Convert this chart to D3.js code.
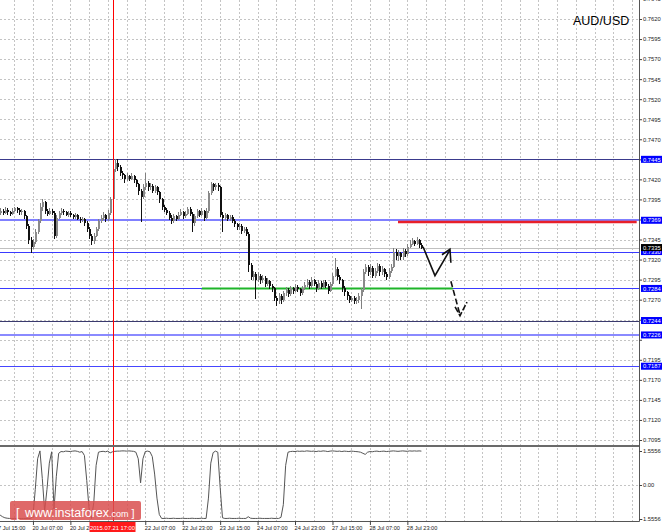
<!DOCTYPE html>
<html><head><meta charset="utf-8">
<script src="https://cdn.jsdelivr.net/npm/d3@7"></script>
<style>html,body{margin:0;padding:0;background:#fff;} svg{display:block;}</style>
</head><body>
<script>
// ---------- DATA (H1 bars, index 0 = 17 Jul 15:00) ----------
const opens = [.7383,.7380,.7378,.7381,.7378,.7382,.7379,.7377,.7381,.7384,.7382,.7379,.7380,.7374,.7362,.7345,.7336,.7342,.7355,.7368,
.7385,.7392,.7380,.7377,.7381,.7378,.7349,.7372,.7378,.7381,.7379,.7376,.7378,.7375,.7373,.7375,.7371,.7369,.7370,.7366,
.7358,.7350,.7343,.7350,.7358,.7368,.7372,.7375,.7370,.7378,.7395,.7433,.7440,.7436,.7428,.7425,.7420,.7424,.7421,.7424,
.7419,.7414,.7405,.7398,.7410,.7415,.7410,.7412,.7406,.7410,.7404,.7395,.7385,.7382,.7378,.7372,.7368,.7374,.7371,.7376,
.7379,.7374,.7377,.7383,.7377,.7365,.7374,.7380,.7376,.7380,.7372,.7380,.7403,.7414,.7410,.7413,.7410,.7376,.7372,.7375,
.7371,.7373,.7368,.7364,.7360,.7362,.7356,.7358,.7352,.7313,.7298,.7302,.7295,.7300,.7294,.7297,.7290,.7293,.7287,.7284,
.7272,.7268,.7275,.7270,.7278,.7282,.7277,.7284,.7281,.7286,.7283,.7278,.7284,.7288,.7292,.7287,.7294,.7290,.7284,.7291,
.7286,.7292,.7287,.7281,.7289,.7300,.7308,.7298,.7294,.7284,.7279,.7274,.7270,.7272,.7268,.7270,.7275,.7282,.7305,.7311,
.7304,.7310,.7300,.7306,.7312,.7304,.7308,.7302,.7298,.7306,.7311,.7330,.7325,.7328,.7323,.7331,.7327,.7336,.7340,.7343,
.7340,.7344,.7338];
const highs = [.7385,.7382,.7384,.7383,.7385,.7384,.7381,.7384,.7386,.7386,.7384,.7383,.7382,.7376,.7364,.7348,.7346,.7358,.7371,.7390,
.7395,.7393,.7383,.7384,.7383,.7380,.7375,.7381,.7384,.7383,.7381,.7380,.7380,.7377,.7378,.7377,.7373,.7373,.7372,.7368,
.7360,.7352,.7353,.7361,.7371,.7376,.7379,.7377,.7382,.7398,.7437,.7446,.7445,.7438,.7431,.7427,.7428,.7426,.7428,.7426,
.7421,.7416,.7408,.7414,.7428,.7418,.7416,.7414,.7413,.7412,.7406,.7397,.7388,.7384,.7380,.7375,.7377,.7376,.7379,.7383,
.7381,.7380,.7386,.7385,.7379,.7377,.7383,.7382,.7384,.7382,.7384,.7406,.7417,.7416,.7416,.7415,.7412,.7379,.7378,.7377,
.7376,.7375,.7370,.7366,.7365,.7364,.7361,.7360,.7354,.7316,.7306,.7305,.7304,.7302,.7301,.7299,.7297,.7295,.7290,.7286,
.7275,.7278,.7277,.7281,.7286,.7284,.7287,.7286,.7289,.7288,.7285,.7287,.7292,.7296,.7294,.7298,.7296,.7292,.7294,.7293,
.7295,.7294,.7289,.7292,.7303,.7322,.7311,.7301,.7296,.7287,.7281,.7276,.7275,.7274,.7273,.7278,.7285,.7308,.7315,.7313,
.7314,.7312,.7310,.7316,.7314,.7312,.7310,.7305,.7309,.7315,.7334,.7333,.7332,.7330,.7335,.7333,.7340,.7344,.7347,.7345,
.7348,.7346,.7341];
const lows = [.7378,.7375,.7376,.7376,.7377,.7376,.7374,.7375,.7379,.7378,.7375,.7376,.7371,.7358,.7340,.7328,.7333,.7340,.7352,.7366,
.7381,.7377,.7374,.7375,.7375,.7346,.7347,.7370,.7376,.7376,.7374,.7373,.7373,.7370,.7371,.7369,.7366,.7367,.7362,.7355,
.7346,.7338,.7340,.7348,.7356,.7366,.7369,.7367,.7368,.7376,.7393,.7429,.7431,.7424,.7421,.7416,.7418,.7418,.7419,.7416,
.7410,.7401,.7367,.7395,.7407,.7406,.7407,.7403,.7403,.7400,.7391,.7382,.7379,.7375,.7369,.7364,.7366,.7368,.7369,.7374,
.7371,.7372,.7375,.7374,.7355,.7362,.7372,.7373,.7374,.7368,.7370,.7378,.7400,.7406,.7407,.7406,.7373,.7354,.7369,.7368,
.7368,.7365,.7360,.7357,.7357,.7352,.7353,.7349,.7305,.7294,.7295,.7271,.7292,.7290,.7291,.7286,.7287,.7283,.7279,.7268,
.7262,.7265,.7264,.7267,.7275,.7273,.7275,.7277,.7279,.7280,.7274,.7276,.7282,.7286,.7283,.7285,.7287,.7280,.7282,.7283,
.7284,.7284,.7277,.7279,.7287,.7298,.7295,.7290,.7280,.7275,.7270,.7266,.7267,.7264,.7265,.7266,.7258,.7280,.7302,.7300,
.7301,.7297,.7297,.7303,.7300,.7301,.7298,.7294,.7296,.7303,.7309,.7320,.7318,.7319,.7320,.7323,.7325,.7334,.7338,.7337,
.7338,.7335,.7333];
const closes = [.7380,.7378,.7381,.7378,.7382,.7379,.7377,.7381,.7384,.7382,.7379,.7380,.7374,.7362,.7345,.7336,.7342,.7355,.7368,.7385,
.7392,.7380,.7377,.7381,.7378,.7349,.7372,.7378,.7381,.7379,.7376,.7378,.7375,.7373,.7375,.7371,.7369,.7370,.7366,.7358,
.7350,.7343,.7350,.7358,.7368,.7372,.7375,.7370,.7378,.7395,.7433,.7440,.7436,.7428,.7425,.7420,.7424,.7421,.7424,.7419,
.7414,.7405,.7398,.7410,.7415,.7410,.7412,.7406,.7410,.7404,.7395,.7385,.7382,.7378,.7372,.7368,.7374,.7371,.7376,.7379,
.7374,.7377,.7383,.7377,.7365,.7374,.7380,.7376,.7380,.7372,.7380,.7403,.7414,.7410,.7413,.7410,.7376,.7372,.7375,.7371,
.7373,.7368,.7364,.7360,.7362,.7356,.7358,.7352,.7313,.7298,.7302,.7295,.7300,.7294,.7297,.7290,.7293,.7287,.7284,.7272,
.7268,.7275,.7270,.7278,.7282,.7277,.7284,.7281,.7286,.7283,.7278,.7284,.7288,.7292,.7287,.7294,.7290,.7284,.7291,.7286,
.7292,.7287,.7281,.7289,.7300,.7308,.7298,.7294,.7284,.7279,.7274,.7270,.7272,.7268,.7270,.7275,.7282,.7305,.7311,.7304,
.7310,.7300,.7306,.7312,.7304,.7308,.7302,.7298,.7306,.7311,.7330,.7325,.7328,.7323,.7331,.7327,.7336,.7340,.7343,.7340,
.7344,.7338,.7335];
const indicator = [-1.45,-1.40,-1.38,-1.45,-1.50,-1.52,-1.53,-1.53,-1.53,-1.53,-1.53,-1.53,-1.53,-1.53,-1.53,-1.53,-1.45,-0.20,1.20,1.56,
0.30,-1.20,-0.20,1.00,1.52,-1.10,0.40,1.45,1.53,1.52,1.55,1.54,1.53,1.55,1.56,1.54,1.50,1.53,1.35,0.20,
-1.10,-1.53,-0.80,0.90,1.50,1.53,1.54,1.52,1.55,1.47,1.52,1.54,1.55,1.55,1.56,1.56,1.55,1.56,1.55,1.54,
1.50,1.20,0.10,1.20,1.53,1.55,1.52,1.30,0.50,-0.60,-1.35,-1.53,-1.53,-1.52,-1.53,-1.53,-1.52,-1.53,-1.53,-1.53,
-1.52,-1.53,-1.53,-1.53,-1.52,-1.53,-1.53,-1.53,-1.52,-1.53,-1.53,-0.60,1.00,1.48,1.55,1.50,-0.10,-1.50,-1.53,-1.53,
-1.52,-1.53,-1.53,-1.53,-1.52,-1.53,-1.53,-1.53,-1.45,-1.52,-1.53,-1.53,-1.53,-1.52,-1.53,-1.53,-1.53,-1.53,-1.52,-1.53,
-1.53,-1.53,-1.48,-0.90,0.90,1.50,1.53,1.54,1.53,1.55,1.54,1.55,1.54,1.56,1.55,1.54,1.55,1.53,1.55,1.54,
1.56,1.55,1.53,1.55,1.56,1.55,1.54,1.55,1.53,1.55,1.54,1.53,1.55,1.54,1.53,1.52,1.50,1.45,1.40,1.50,
1.53,1.52,1.54,1.55,1.53,1.54,1.55,1.53,1.54,1.55,1.56,1.55,1.54,1.55,1.56,1.55,1.54,1.56,1.55,1.56,
1.55,1.56,1.55];
const priceTicks = [0.7095,0.7120,0.7145,0.7170,0.7195,0.7220,0.7245,0.7270,0.7295,0.7320,0.7345,0.7370,0.7395,0.7420,0.7445,0.7470,0.7495,0.7520,0.7545,0.7570,0.7595,0.7620,0.7645];
const timeTickIdx = [0,16,32,48,64,80,96,112,128,144,160,176];
const timeTickLabels = ["17 Jul 15:00","20 Jul 07:00","20 Jul 23:00","21 Jul 15:00","22 Jul 07:00","22 Jul 23:00","23 Jul 15:00","24 Jul 07:00","24 Jul 23:00","27 Jul 15:00","28 Jul 07:00","28 Jul 23:00"];
const levelPrices = [0.7445,0.7369,0.7330,0.7284,0.7244,0.7226,0.7187];
const levelLabels = ["0.7445","0.7369","0.7330","0.7284","0.7244","0.7226","0.7187"];
const bidPrice = 0.7335, bidLabel = "0.7335";
const markerIdx = 50, markerLabel = "2015.07.21 17:00";
const resistance = {from:172, to:274, price:0.7367};
const support = {from:88.2, to:195.5, price:0.7284};
const arrowSolid = [[182.7,0.7336],[187.8,0.7300],[194.2,0.7332]];
const arrowSolidHead = [[190.8,0.7326],[194.2,0.7333],[194.6,0.7316]];
const arrowDashed = [[194.6,0.7293],[198.5,0.7251]];
const arrowDashedHead = [[196.4,0.7261],[198.5,0.7250],[201.5,0.7267]];
const indLevels = [1.5556, 0, -1.5556];
const indLabels = ["1.5556","0.00","-1.5556"];
const symbol = "AUD/USD";

// ---------- LAYOUT ----------
const W = 664, H = 532, R = 639;
const mainBottom = 445, indTop = 447, indBottom = 521;
const x = d3.scaleLinear().domain([0, 272]).range([-4.5, 632]);
const y = d3.scaleLinear().domain([0.7095, 0.7620]).range([440, 19]);
const yi = d3.scaleLinear().domain([-1.5556, 1.5556]).range([519, 451]);
const font = "'Liberation Sans', Arial, sans-serif";
const mx = x(markerIdx);

const svg = d3.select("body").append("svg").attr("width", W).attr("height", H)
  .style("font-family", font);
const defs = svg.append("defs");
defs.append("clipPath").attr("id","cm").append("rect").attr("x",0).attr("y",0).attr("width",R).attr("height",mainBottom);
defs.append("clipPath").attr("id","ci").append("rect").attr("x",0).attr("y",indTop).attr("width",R).attr("height",indBottom-indTop);
const ct = defs.append("clipPath").attr("id","ct");
ct.append("rect").attr("x",-10).attr("y",0).attr("width",mx-23+10).attr("height",20);
ct.append("rect").attr("x",mx+23).attr("y",0).attr("width",W).attr("height",20);

svg.append("rect").attr("width",W).attr("height",H).attr("fill","#fff");

// grid
const grid = svg.append("g").attr("stroke","#c4c4c4").attr("stroke-dasharray","2,2").attr("stroke-width",1);
grid.selectAll(".hg").data(priceTicks.filter(p => y(p) > 0 && y(p) < mainBottom)).join("line")
  .attr("x1",0).attr("x2",R).attr("y1",d=>Math.round(y(d))+0.5).attr("y2",d=>Math.round(y(d))+0.5);
const vIdx = d3.range(8, 273, 8);
grid.selectAll(".vg").data(vIdx).join("line")
  .attr("x1",d=>Math.round(x(d))+0.5).attr("x2",d=>Math.round(x(d))+0.5).attr("y1",0).attr("y2",indBottom);
grid.append("line").attr("x1",0).attr("x2",R).attr("y1",Math.round(yi(0))+0.5).attr("y2",Math.round(yi(0))+0.5);

// level lines
const levelStyle = [
  {c:"#3a3a8c",w:1},{c:"#8080ff",w:2},{c:"#3a3aff",w:1},{c:"#3a3aff",w:1},{c:"#3a3a6e",w:1},{c:"#8a8aff",w:2},{c:"#4646ff",w:1}];
const main = svg.append("g").attr("clip-path","url(#cm)");
main.selectAll(".lv").data(levelPrices).join("line")
  .attr("x1",0).attr("x2",R)
  .attr("y1",(d,i)=>Math.round(y(d))+(levelStyle[i].w===1?0.5:0))
  .attr("y2",(d,i)=>Math.round(y(d))+(levelStyle[i].w===1?0.5:0))
  .attr("stroke",(d,i)=>levelStyle[i].c).attr("stroke-width",(d,i)=>levelStyle[i].w);
main.append("line").attr("x1",0).attr("x2",R)
  .attr("y1",Math.round(y(bidPrice))+0.5).attr("y2",Math.round(y(bidPrice))+0.5)
  .attr("stroke","#c0c0c0");

// support / resistance
main.append("line").attr("x1",x(resistance.from)).attr("x2",x(resistance.to))
  .attr("y1",y(resistance.price)).attr("y2",y(resistance.price))
  .attr("stroke","#e8202a").attr("stroke-width",2.5);
main.append("line").attr("x1",x(support.from)).attr("x2",x(support.to))
  .attr("y1",y(support.price)).attr("y2",y(support.price))
  .attr("stroke","#1fb52a").attr("stroke-width",2);

// candles
const bars = d3.range(closes.length);
const cg = main.append("g").attr("shape-rendering","crispEdges");
cg.selectAll(".wick").data(bars).join("line")
  .attr("x1",i=>Math.round(x(i))+0.5).attr("x2",i=>Math.round(x(i))+0.5)
  .attr("y1",i=>y(highs[i])).attr("y2",i=>y(lows[i]))
  .attr("stroke",i=>closes[i]>=opens[i]?"#808080":"#111");
cg.selectAll(".body").data(bars).join("rect")
  .attr("x",i=>Math.round(x(i))-0.5)
  .attr("width",2)
  .attr("y",i=>y(Math.max(opens[i],closes[i])))
  .attr("height",i=>Math.max(1, Math.abs(y(opens[i])-y(closes[i]))))
  .attr("fill",i=>closes[i]>=opens[i]?"#8a8a8a":"#111");

// arrows
const ln = d3.line().x(d=>x(d[0])).y(d=>y(d[1]));
const ag = main.append("g").attr("fill","none").attr("stroke","#111").attr("stroke-width",1.6).attr("stroke-linejoin","miter");
ag.append("path").attr("d",ln(arrowSolid));
ag.append("path").attr("d",ln(arrowSolidHead));
ag.append("path").attr("d",ln(arrowDashed)).attr("stroke-dasharray","6,3");
ag.append("path").attr("d",ln(arrowDashedHead)).attr("stroke-dasharray","6,2");

// indicator
const ig = svg.append("g").attr("clip-path","url(#ci)");
ig.append("path").attr("d", d3.line().x((d,i)=>x(i)).y(d=>yi(d))(indicator))
  .attr("fill","none").attr("stroke","#555").attr("stroke-width",1);

// marker vertical line
svg.append("line").attr("x1",Math.round(mx)+0.5).attr("x2",Math.round(mx)+0.5)
  .attr("y1",0).attr("y2",indBottom).attr("stroke","#ff0000").attr("stroke-width",1);

// separators / frame
svg.append("rect").attr("x",0).attr("y",mainBottom).attr("width",R).attr("height",2).attr("fill","#6a6a6a");
svg.append("line").attr("x1",R+0.5).attr("x2",R+0.5).attr("y1",0).attr("y2",indBottom+0.5).attr("stroke","#555");
svg.append("line").attr("x1",0).attr("x2",R+0.5).attr("y1",indBottom+0.5).attr("y2",indBottom+0.5).attr("stroke","#555");

// price axis
const pa = svg.append("g").attr("transform",`translate(${R},0)`)
  .call(d3.axisRight(y).tickValues(priceTicks).tickSize(3).tickPadding(1).tickFormat(d3.format(".4f")));
pa.select(".domain").remove();
pa.selectAll("line").attr("stroke","#444");
pa.selectAll("text").attr("font-size",5.8).attr("fill","#222").attr("font-family",font);
// labels hidden under level boxes
pa.selectAll(".tick").filter(d => levelPrices.some(p => Math.abs(y(p)-y(d)) < 5)).select("text").remove();

// indicator axis
const ia = svg.append("g").attr("transform",`translate(${R},0)`)
  .call(d3.axisRight(yi).tickValues(indLevels).tickSize(3).tickPadding(1).tickFormat((d,i)=>indLabels[i]));
ia.select(".domain").remove();
ia.selectAll("line").attr("stroke","#444");
ia.selectAll("text").attr("font-size",5.8).attr("fill","#222").attr("font-family",font);
ia.selectAll(".tick").filter(d=>d<0).select("text").attr("x",2);

// level labels
const lb = svg.append("g");
const boxes = levelPrices.map((p,i)=>({p, t:levelLabels[i], bg:"#0000ff"}));
boxes.splice(3, 0, {p:bidPrice, t:bidLabel, bg:"#000"});
const bg = lb.selectAll("g").data(boxes).join("g").attr("transform",d=>`translate(${R+2},${y(d.p)})`);
bg.append("rect").attr("x",0).attr("y",-3.5).attr("width",21).attr("height",7).attr("fill",d=>d.bg);
bg.append("text").attr("x",2).attr("y",2.2).attr("font-size",5.8).attr("fill","#fff").text(d=>d.t);

// time axis
const ta = svg.append("g").attr("transform",`translate(0,${indBottom})`)
  .call(d3.axisBottom(x).tickValues(timeTickIdx).tickSize(4).tickPadding(1).tickFormat((d,i)=>timeTickLabels[i]));
ta.select(".domain").remove();
ta.selectAll("line").attr("stroke","#444");
ta.selectAll("text").attr("font-size",5.6).attr("fill","#222").attr("text-anchor","start").attr("dx",-1).attr("font-family",font);
// label fully hidden under the marker's date box
ta.selectAll(".tick").filter(d => Math.abs(x(d) - mx) < 23).select("text").remove();
ta.selectAll(".tick").filter(d => x(d) < mx - 23 && x(d) > mx - 60).select("text")
  .attr("clip-path", function(d){ return null; });
const taClip = svg.append("g").attr("clip-path","url(#ct)").attr("transform",`translate(0,${indBottom})`);
ta.selectAll(".tick").filter(d => x(d) < mx - 23 && x(d) > mx - 60).each(function(){
  const t = d3.select(this);
  const tr = t.attr("transform");
  const txt = t.select("text").remove().node();
  taClip.append("g").attr("transform",tr).node().appendChild(txt);
});

// marker date box
svg.append("rect").attr("x",mx-23).attr("y",522).attr("width",46).attr("height",10).attr("fill","#ff1a1a");
svg.append("text").attr("x",mx).attr("y",529.5).attr("text-anchor","middle").attr("font-size",5.8).attr("fill","#fff").text(markerLabel);

// watermark
const wm = svg.append("g");
wm.append("rect").attr("x",10).attr("y",501).attr("width",131).attr("height",19).attr("rx",2).attr("fill","#d94f4f").attr("opacity",0.85);
const wt = wm.append("text").attr("x",16).attr("y",516.5).attr("fill","#fff").attr("font-size",12.5);
wt.append("tspan").text("[ ");
wt.append("tspan").attr("dx",2).text("www.instaforex");
wt.append("tspan").attr("font-size",9).text(".com");
wt.append("tspan").attr("dx",3).attr("font-size",11).text("]");

// symbol title
svg.append("text").attr("x",573).attr("y",25).attr("font-size",12.5).attr("fill","#000").text(symbol);
</script>
</body></html>
